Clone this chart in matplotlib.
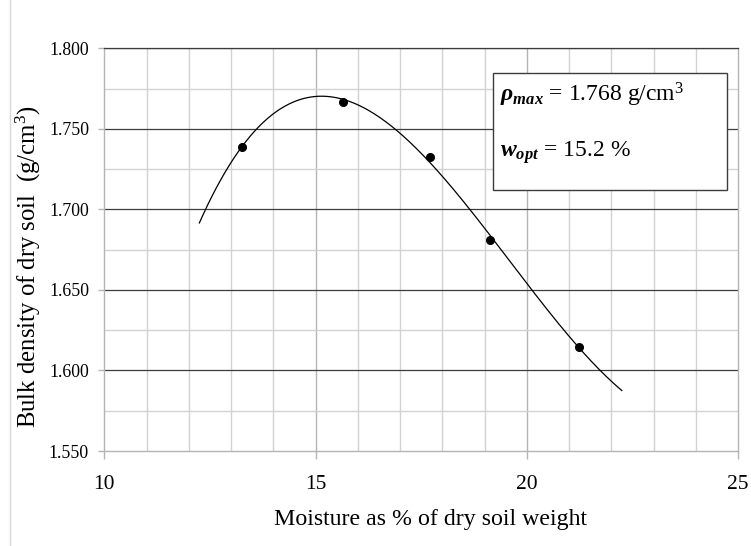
import numpy as np
import matplotlib
matplotlib.use("Agg")
import matplotlib.pyplot as plt
from matplotlib.patches import Rectangle
from matplotlib.lines import Line2D

plt.rcParams['font.family'] = ['Liberation Serif', 'DejaVu Serif']
plt.rcParams['mathtext.fontset'] = 'custom'
plt.rcParams['mathtext.rm'] = 'Liberation Serif'
plt.rcParams['mathtext.it'] = 'Liberation Serif:italic'
plt.rcParams['mathtext.bf'] = 'Liberation Serif:bold'
plt.rcParams['mathtext.bfit'] = 'Liberation Serif:italic:bold'

# Data
moisture = [13.25, 15.66, 17.71, 19.13, 21.24]
density = [1.739, 1.7665, 1.7327, 1.6812, 1.6145]
fit_range = [12.25, 22.25]
x_ticks = [10, 15, 20, 25]
y_ticks = [1.550, 1.600, 1.650, 1.700, 1.750, 1.800]
rho_max = 1.768
w_opt = 15.2

W, H = 751, 546
fig = plt.figure(figsize=(W / 100, H / 100), dpi=100)
ax = fig.add_axes([104.3 / W, 1 - 451 / H, (738 - 104.3) / W, (451 - 48.3) / H])

# grid
for xv in np.arange(11, 25, 1):
    c = '#b4b4b4' if xv % 5 == 0 else '#d2d2d2'
    ax.axvline(xv, color=c, lw=1.0, zorder=0)
for i, yv in enumerate(np.arange(1.575, 1.800, 0.025)):
    if i % 2 == 1:
        ax.axhline(yv, color='#3c3c3c', lw=0.9, zorder=0)
    else:
        ax.axhline(yv, color='#d2d2d2', lw=1.0, zorder=0)

# trendline (3rd order polynomial fit of data)
coef = np.polyfit(moisture, density, 3)
xf = np.linspace(fit_range[0], fit_range[1], 300)
ax.plot(xf, np.polyval(coef, xf), color='black', lw=0.9, zorder=2)
ax.plot(moisture, density, 'o', color='black', ms=5.5, zorder=3)

ax.set_xlim(10, 25)
ax.set_ylim(1.550, 1.800)
ax.set_xticks(x_ticks)
ax.set_yticks(y_ticks)
ax.set_yticklabels([f'{v:.3f}' for v in y_ticks])
ax.tick_params(axis='x', length=6, width=1, color='#b4b4b4', labelsize=15.5, pad=11)
ax.tick_params(axis='y', length=4, width=1, color='#b4b4b4', labelsize=12.8, pad=7)
for s in ['left', 'right', 'bottom']:
    ax.spines[s].set_color('#b4b4b4')
    ax.spines[s].set_linewidth(1.0)
ax.spines['top'].set_color('#3c3c3c')
ax.spines['top'].set_linewidth(0.9)

fig.text(431 / W, 1 - 519 / H, 'Moisture as % of dry soil weight', fontsize=17.2,
         ha='center', va='center')
fig.text(28 / W, 1 - 267 / H, 'Bulk density of dry soil  (g/cm$^3$)', fontsize=17.8,
         ha='center', va='center', rotation=90)

# annotation box
rect = Rectangle((492.7 / W, 1 - 190 / H), (726.7 - 492.7) / W, (190 - 72.7) / H,
                 transform=fig.transFigure, facecolor='white', edgecolor='#3c3c3c',
                 lw=1.0, zorder=5)
fig.patches.append(rect)
fig.text(500 / W, 1 - 101.5 / H, r'$\mathbfit{ρ}_{\mathbfit{max}}$' + f' = {rho_max:.3f} g/cm' + r'$^3$',
         fontsize=17, va='baseline', ha='left', zorder=6)
fig.text(500 / W, 1 - 156.5 / H, r'$\mathbfit{w}_{\mathbfit{opt}}$' + f' = {w_opt:.1f} %',
         fontsize=17, va='baseline', ha='left', zorder=6)

# page border line
fig.add_artist(Line2D([10 / W, 10 / W], [0, 1], transform=fig.transFigure, color='#d8d8d8', lw=1))

fig.savefig('out.png', dpi=100)
